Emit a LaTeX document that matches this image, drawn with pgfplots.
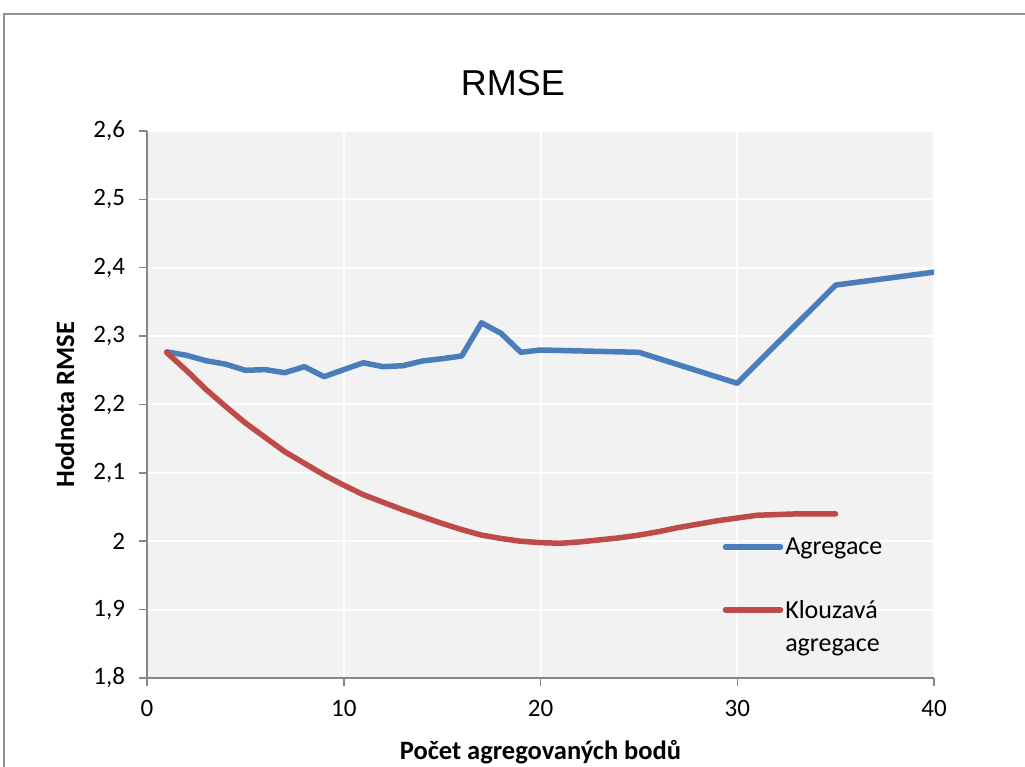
\documentclass[border=0pt]{standalone}
\usepackage{fontspec}
\setmainfont{Carlito}
\newfontfamily\titlefont{Liberation Sans}
\usepackage{pgfplots}
\pgfplotsset{compat=1.18}
\pgfplotsset{twoline/.style={legend image code/.code={\path (0pt,-16.5pt); \draw[##1] (0pt,16.5pt) -- (55pt,16.5pt);}}}
\definecolor{bluel}{HTML}{4A7EBB}
\definecolor{redl}{HTML}{BE4B48}
\definecolor{bg}{HTML}{F2F2F2}
\definecolor{axgray}{HTML}{868686}
\begin{document}
\begin{tikzpicture}
\useasboundingbox (-147pt,-89pt) rectangle (878pt,678pt);
\draw[color=axgray!90, line width=1.5pt] (-143pt,-95pt) -- (-143pt,664pt) -- (885pt,664pt);
\begin{axis}[
  at={(0pt,0pt)}, anchor=south west,
  scale only axis, width=787pt, height=547pt,
  xmin=0, xmax=40, ymin=1.8, ymax=2.6,
  xtick={0,10,20,30,40},
  ytick={1.8,1.9,2.0,2.1,2.2,2.3,2.4,2.5,2.6},
  axis background/.style={fill=bg},
  grid=major, major grid style={white, line width=2pt},
  axis x line*=bottom, axis y line*=left,
  axis line style={axgray, line width=1.5pt},
  tick align=outside, major tick length=8pt,
  tick style={axgray, line width=1.5pt},
  /pgf/number format/assume math mode=true,
  /pgf/number format/use comma,
  ticklabel style={font=\fontsize{25}{30}\selectfont},
  xticklabel style={yshift=-11pt},
  yticklabel style={xshift=-10.5pt},
  xlabel={Počet agregovaných bodů},
  ylabel={Hodnota RMSE},
  label style={font=\bfseries\fontsize{26.5}{32}\selectfont},
  xlabel style={at={(axis description cs:0.5,-0.1499)}, anchor=base},
  ylabel style={at={(axis description cs:-0.1042,0.5)}, anchor=center},
  legend cell align=left,
  legend image code/.code={\draw[#1] (0pt,0pt) -- (55pt,0pt);},
  legend style={at={(axis cs:29.1,2.011)}, anchor=north west, draw=none, fill=none,
    font=\fontsize{26}{33}\selectfont, row sep=40pt, cells={align=left}},
]
\addplot[bluel, line width=5.5pt, line join=round, line cap=round] coordinates {
(1,2.277) (2,2.272) (3,2.264) (4,2.259) (5,2.250) (6,2.251) (7,2.2465) (8,2.2553)
(9,2.2407) (10,2.251) (11,2.261) (12,2.2553) (13,2.2567) (14,2.2636) (15,2.267)
(16,2.271) (17,2.3195) (18,2.304) (19,2.2763) (20,2.2797) (25,2.2763) (30,2.231)
(35,2.3747) (40,2.3935)};
\addlegendentry{Agregace}
\addplot[redl, line width=5.5pt, line join=round, line cap=round, twoline] coordinates {
(1,2.276) (2,2.250) (3,2.222) (4,2.197) (5,2.173) (6,2.152) (7,2.131) (8,2.114)
(9,2.097) (10,2.082) (11,2.068) (12,2.057) (13,2.046) (14,2.036) (15,2.026)
(16,2.017) (17,2.009) (18,2.004) (19,2.000) (20,1.998) (21,1.997) (22,1.999)
(23,2.002) (24,2.005) (25,2.009) (26,2.014) (27,2.020) (28,2.025) (29,2.030)
(30,2.034) (31,2.038) (32,2.039) (33,2.040) (34,2.040) (35,2.040)};
\addlegendentry{Klouzavá\\agregace}
\end{axis}
\node[font=\titlefont\fontsize{36}{43}\selectfont] at (366pt,595pt) {RMSE};
\end{tikzpicture}
\end{document}
